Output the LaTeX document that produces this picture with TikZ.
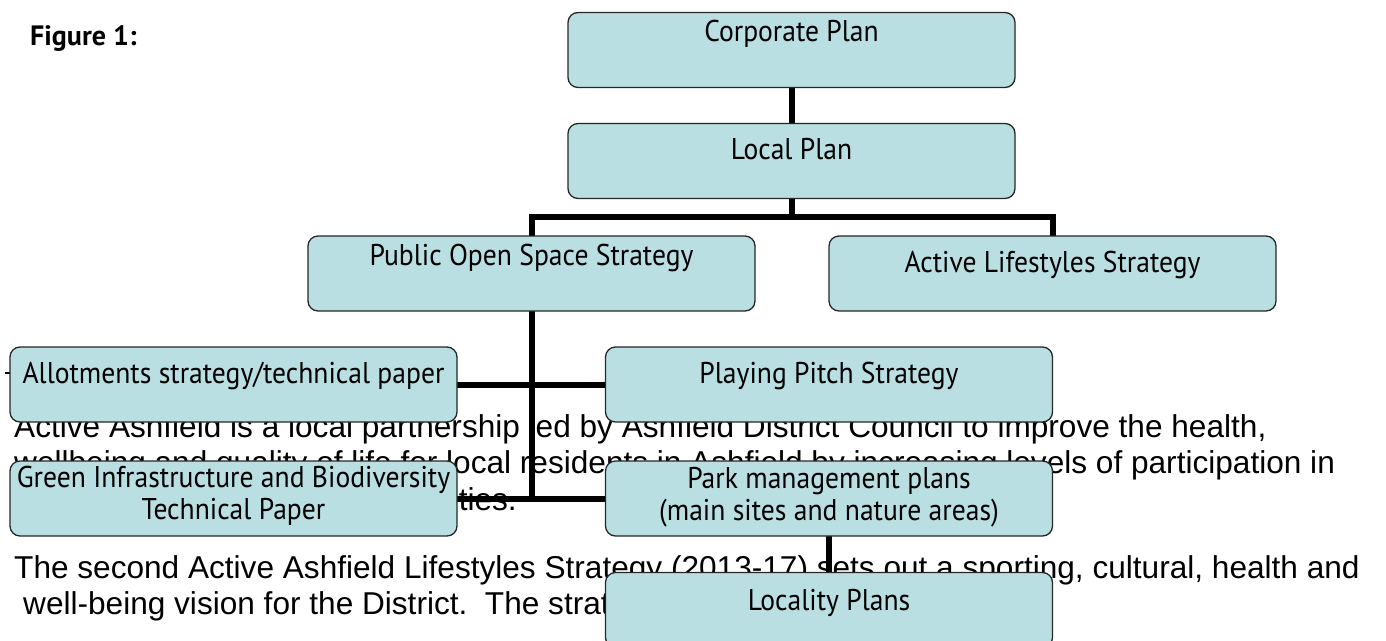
\documentclass[tikz,border=0pt]{standalone}
\usepackage{fontspec}
\setmainfont{Liberation Sans}
\newfontfamily\gill[FakeStretch=0.92]{PT Sans}
\newfontfamily\gillbold{PT Sans Bold}
\usetikzlibrary{calc}
\definecolor{boxfill}{RGB}{185,223,226}
\pgfdeclarelayer{pagetext}
\pgfdeclarelayer{links}
\pgfsetlayers{pagetext,links,main}
\begin{document}
\begin{tikzpicture}[x=1pt,y=-1pt,
  box/.style={draw=black!85, line width=1.3pt, fill=boxfill, rounded corners=10pt,
    minimum width=447pt, minimum height=75pt, inner sep=0pt, outer sep=0pt},
  boxtext/.style={font=\gill\fontsize{30}{33}\selectfont, anchor=base, inner sep=0pt},
  body/.style={font=\fontsize{31.6}{36}\selectfont, anchor=base west, inner sep=0pt},
  link/.style={line width=6pt, draw=black}]
\useasboundingbox (0,0) rectangle (1386,640);
\clip (0,0) rectangle (1386,640);

% caption
\node[anchor=base west, inner sep=0pt, font=\gillbold\fontsize{28}{30}\selectfont] (fig) at (30,45) {Figure 1:};

% running text of the page, lying under the chart
\begin{pgfonlayer}{pagetext}
\node[body] (l1) at (14,437) {Active Ashfield is a local partnership led by Ashfield District Council to improve the health,};
\node[body] (l2) at (14,473) {wellbeing and quality of life for local residents in Ashfield by increasing levels of participation in};
\node[body, anchor=base east] (l3) at (517,510) {sport and physical activities.};
\node[body] (l4) at (14,578) {The second Active Ashfield Lifestyles Strategy (2013-17) sets out a sporting, cultural, health and};
\node[body] (l5) at (23,614) {well-being vision for the District.\ \ The strategy};
\draw[line width=2pt] (5,373) -- (11,373);
\end{pgfonlayer}

% chart boxes
\node[box] (corp)   at (791.5,50)    {};
\node[box] (local)  at (791.5,161)   {};
\node[box] (pos)    at (531.5,273.5) {};
\node[box] (active) at (1052.5,273.5){};
\node[box] (allot)  at (233.5,384.5) {};
\node[box] (pitch)  at (829,384.5)   {};
\node[box] (green)  at (233.5,498.5) {};
\node[box] (park)   at (829,498.5)   {};
\node[box] (loc)    at (829,610)     {};

% box labels, set near the top edge of each box
\node[boxtext] at ($(corp.north)+(0,29)$)   {Corporate Plan};
\node[boxtext] at ($(local.north)+(0,36)$)  {Local Plan};
\node[boxtext] at ($(pos.north)+(0,29)$)    {Public Open Space Strategy};
\node[boxtext] at ($(active.north)+(0,36)$) {Active Lifestyles Strategy};
\node[boxtext] at ($(allot.north)+(0,36)$)  {Allotments strategy/technical paper};
\node[boxtext] at ($(pitch.north)+(0,36)$)  {Playing Pitch Strategy};
\node[boxtext] at ($(green.north)+(0,26.5)$) {Green Infrastructure and Biodiversity};
\node[boxtext] at ($(green.north)+(0,58.5)$) {Technical Paper};
\node[boxtext] at ($(park.north)+(0,27)$)   {Park management plans};
\node[boxtext] at ($(park.north)+(0,59.5)$) {(main sites and nature areas)};
\node[boxtext] at ($(loc.north)+(0,38)$)    {Locality Plans};

% connectors, beneath the boxes
\begin{pgfonlayer}{links}
\draw[link] (corp.south) -- (local.south);
\draw[link] (local.south) -- ++(0,18);
\draw[link] (pos.north) |- ($(local.south)+(0,18)$) -| (active.north);
\draw[link] (pos.south) -- (pos.south |- green.east);
\draw[link] (allot.east) -- (pitch.west);
\draw[link] (green.east) -- (park.west);
\draw[link] (park.south) -- (loc.north);
\end{pgfonlayer}
\end{tikzpicture}
\end{document}
